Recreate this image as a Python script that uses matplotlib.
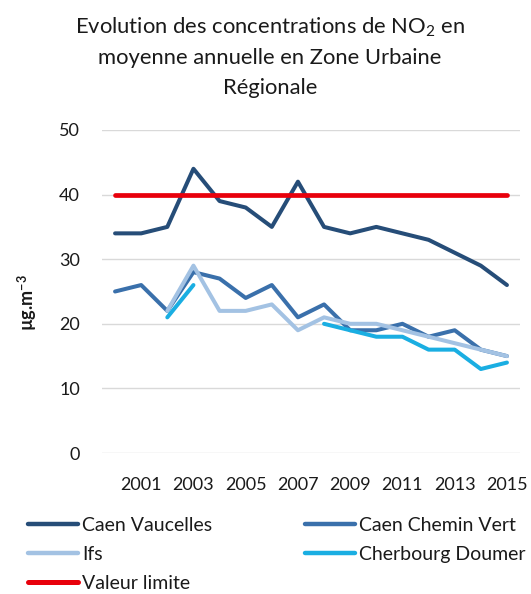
import numpy as np
import matplotlib
matplotlib.use("Agg")
import matplotlib.pyplot as plt
from matplotlib.lines import Line2D

plt.rcParams['font.family'] = ['Lato', 'DejaVu Sans']
plt.rcParams['mathtext.fontset'] = 'custom'
plt.rcParams['mathtext.rm'] = 'Lato'
plt.rcParams['mathtext.it'] = 'Lato:italic'
plt.rcParams['mathtext.bf'] = 'Lato:bold'

nan = np.nan
years = list(range(2000, 2016))
caen_vaucelles = [34, 34, 35, 44, 39, 38, 35, 42, 35, 34, 35, 34, 33, 31, 29, 26]
caen_chemin_vert = [25, 26, 22, 28, 27, 24, 26, 21, 23, 19, 19, 20, 18, 19, 16, 15]
ifs = [nan, nan, 22, 29, 22, 22, 23, 19, 21, 20, 20, 19, 18, 17, 16, 15]
cherbourg_doumer = [nan, nan, 21, 26, nan, nan, nan, nan, 20, 19, 18, 18, 16, 16, 13, 14]
valeur_limite = [40] * 16
tick_years = [2001, 2003, 2005, 2007, 2009, 2011, 2013, 2015]
yticks = [0, 10, 20, 30, 40, 50]

W, H = 531, 594
fig = plt.figure(figsize=(W / 100, H / 100), dpi=100)
ax = fig.add_axes([102 / W, 1 - 453 / H, (520 - 102) / W, (453 - 130) / H])

x = np.arange(len(years))
c_vauc = '#264d78'
c_chem = '#3a70ab'
c_ifs = '#a3c2e3'
c_cher = '#1aaee2'
c_lim = '#e8000b'

kw = dict(solid_capstyle='round', solid_joinstyle='round')
ax.plot(x, caen_vaucelles, color=c_vauc, lw=2.9, zorder=3, **kw)
ax.plot(x, caen_chemin_vert, color=c_chem, lw=2.9, zorder=3, **kw)
ax.plot(x, ifs, color=c_ifs, lw=2.9, zorder=3, **kw)
ax.plot(x, cherbourg_doumer, color=c_cher, lw=2.9, zorder=3, **kw)
ax.plot(x, valeur_limite, color=c_lim, lw=3.4, zorder=4, **kw)

ax.set_xlim(-0.5, len(years) - 0.5)
ax.set_ylim(0, 50)
ax.set_yticks(yticks)
ax.set_xticks([years.index(y) for y in tick_years])
ax.set_xticklabels([str(y) for y in tick_years])
ax.tick_params(axis='both', length=0, labelsize=13, colors='#1a1a1a')
ax.tick_params(axis='y', pad=16)
ax.tick_params(axis='x', pad=17)
ax.grid(axis='y', color='#d9d9d9', lw=1.0)
ax.set_axisbelow(True)
for s in ax.spines.values():
    s.set_visible(False)

fig.text(27 / W, 1 - 303 / H, r'µg.m$^{\mathbf{-3}}$', rotation=90, fontsize=13,
         fontweight='bold', ha='center', va='center', color='#1a1a1a')

title_lines = [r'Evolution des concentrations de NO$_2$ en',
               'moyenne annuelle en Zone Urbaine',
               'Régionale']
baselines = [34, 64, 94]
for t, b in zip(title_lines, baselines):
    fig.text(270 / W, 1 - b / H, t, fontsize=15.8, ha='center', va='baseline', color='#1a1a1a')

h1 = [Line2D([], [], color=c_vauc, lw=3.2, solid_capstyle='round'),
      Line2D([], [], color=c_ifs, lw=3.2, solid_capstyle='round'),
      Line2D([], [], color=c_lim, lw=3.6, solid_capstyle='round')]
l1 = ['Caen Vaucelles', 'Ifs', 'Valeur limite']
h2 = [Line2D([], [], color=c_chem, lw=3.2, solid_capstyle='round'),
      Line2D([], [], color=c_cher, lw=3.2, solid_capstyle='round')]
l2 = ['Caen Chemin Vert', 'Cherbourg Doumer']
lkw = dict(frameon=False, fontsize=14, handlelength=2.55, handletextpad=0.25,
           labelspacing=0.62, borderpad=0, borderaxespad=0, loc='upper left')
leg1 = fig.legend(h1, l1, bbox_to_anchor=(28 / W, 1 - 517 / H), **lkw)
leg2 = fig.legend(h2, l2, bbox_to_anchor=(305 / W, 1 - 517 / H), **lkw)
for lg in (leg1, leg2):
    for t in lg.get_texts():
        t.set_color('#1a1a1a')

fig.savefig('out.png', dpi=100, facecolor='white')
